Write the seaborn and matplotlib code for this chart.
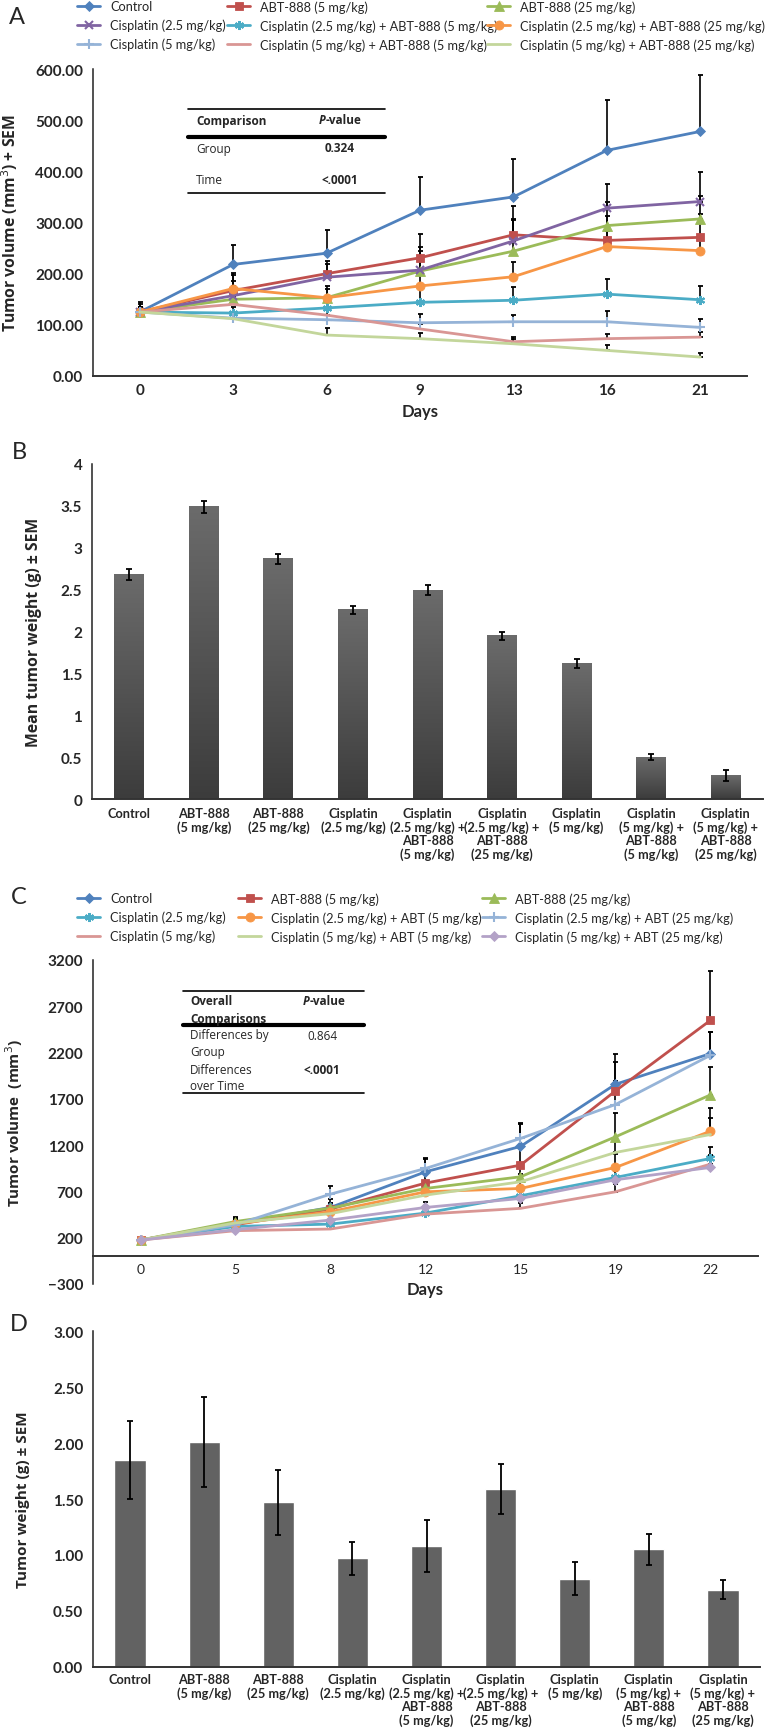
import numpy as np
import matplotlib
matplotlib.use('Agg')
import matplotlib.pyplot as plt
import seaborn as sns
from matplotlib.lines import Line2D
from matplotlib.colors import LinearSegmentedColormap

# ---------------- data ----------------
groups_a = ['Control', 'ABT-888 (5 mg/kg)', 'ABT-888 (25 mg/kg)',
            'Cisplatin (2.5 mg/kg)', 'Cisplatin (2.5 mg/kg) + ABT-888 (5 mg/kg)',
            'Cisplatin (2.5 mg/kg) + ABT-888 (25 mg/kg)',
            'Cisplatin (5 mg/kg)', 'Cisplatin (5 mg/kg) + ABT-888 (5 mg/kg)',
            'Cisplatin (5 mg/kg) + ABT-888 (25 mg/kg)']
days_a = ['0', '3', '6', '9', '13', '16', '21']
vol_a = [
    [125, 218, 240, 324, 350, 441, 478],
    [125, 167, 200, 231, 276, 265, 271],
    [125, 150, 153, 205, 244, 294, 307],
    [125, 157, 193, 207, 264, 328, 341],
    [125, 123, 133, 144, 148, 160, 149],
    [125, 171, 153, 176, 194, 253, 245],
    [125, 113, 110, 104, 106, 106, 95],
    [125, 140, 119, 92, 67, 73, 76],
    [125, 112, 80, 73, 63, 50, 37],
]
sem_a = [
    [20, 38, 46, 65, 75, 99, 110],
    [15, 30, 25, 47, 57, 47, 45],
    [10, 25, 18, 40, 63, 47, 45],
    [10, 28, 25, 45, 41, 48, 57],
    [8, 12, 17, 30, 26, 29, 26],
    [10, 31, 22, 26, 28, 30, 30],
    [8, 10, 10, 17, 13, 21, 17],
    [8, 14, 10, 10, 10, 10, 10],
    [8, 12, 14, 12, 10, 11, 7],
]

bar_labels = ['Control', 'ABT-888\n(5 mg/kg)', 'ABT-888\n(25 mg/kg)', 'Cisplatin\n(2.5 mg/kg)',
              'Cisplatin\n(2.5 mg/kg) +\nABT-888\n(5 mg/kg)', 'Cisplatin\n(2.5 mg/kg) +\nABT-888\n(25 mg/kg)',
              'Cisplatin\n(5 mg/kg)', 'Cisplatin\n(5 mg/kg) +\nABT-888\n(5 mg/kg)',
              'Cisplatin\n(5 mg/kg) +\nABT-888\n(25 mg/kg)']
weight_b = [2.68, 3.49, 2.87, 2.26, 2.49, 1.95, 1.62, 0.50, 0.28]
sem_b = [0.07, 0.07, 0.06, 0.05, 0.06, 0.05, 0.05, 0.04, 0.07]

groups_c = ['Control', 'ABT-888 (5 mg/kg)', 'ABT-888 (25 mg/kg)',
            'Cisplatin (2.5 mg/kg)', 'Cisplatin (2.5 mg/kg) + ABT (5 mg/kg)',
            'Cisplatin (2.5 mg/kg) + ABT (25 mg/kg)',
            'Cisplatin (5 mg/kg)', 'Cisplatin (5 mg/kg) + ABT (5 mg/kg)',
            'Cisplatin (5 mg/kg) + ABT (25 mg/kg)']
days_c = ['0', '5', '8', '12', '15', '19', '22']
vol_c = [
    [175, 350, 527, 912, 1186, 1858, 2189],
    [175, 340, 510, 790, 984, 1786, 2549],
    [175, 375, 520, 732, 858, 1290, 1743],
    [175, 322, 347, 466, 653, 851, 1056],
    [175, 350, 481, 696, 732, 959, 1351],
    [175, 340, 671, 948, 1272, 1639, 2171],
    [175, 276, 294, 455, 517, 696, 995],
    [175, 360, 460, 660, 804, 1121, 1315],
    [175, 287, 391, 527, 624, 826, 959],
]
sem_c = [
    [15, 60, 90, 144, 250, 242, 234],
    [15, 50, 60, 120, 200, 403, 529],
    [15, 50, 60, 80, 120, 255, 306],
    [15, 40, 40, 60, 80, 100, 126],
    [15, 50, 60, 80, 100, 150, 250],
    [15, 50, 83, 100, 160, 250, 250],
    [15, 30, 40, 50, 60, 80, 100],
    [15, 40, 50, 60, 80, 150, 180],
    [15, 40, 50, 54, 80, 100, 120],
]

weight_d = [1.85, 2.01, 1.47, 0.97, 1.08, 1.59, 0.79, 1.05, 0.69]
sem_d = [0.35, 0.40, 0.29, 0.15, 0.23, 0.22, 0.15, 0.14, 0.085]

# ---------------- styles ----------------
colors_a = ['#4F81BD', '#C0504D', '#9BBB59', '#8064A2', '#4BACC6', '#F79646', '#95B3D7', '#D99694', '#C3D69B']
markers_a = ['D', 's', '^', 'x', 'ast', 'o', '+', '', '']
colors_c = ['#4F81BD', '#C0504D', '#9BBB59', '#4BACC6', '#F79646', '#95B3D7', '#D99694', '#C3D69B', '#B3A2C7']
markers_c = ['D', 's', '^', 'ast', 'o', '+', '', '', 'D']
msize = {'D': 5.5, 's': 6, '^': 6.5, 'x': 5.5, 'ast': 6.5, 'o': 6.5, '+': 6.5}

sns.set_style('white')
plt.rcParams['font.family'] = ['Lato', 'DejaVu Sans']
OPEN = ['Open Sans', 'DejaVu Sans']

W, H = 769, 1733
fig = plt.figure(figsize=(W / 100, H / 100), dpi=100)


def box(l, r, t, b):
    return [l / W, 1 - b / H, (r - l) / W, (b - t) / H]


def fx(px):
    return px / W


def fy(py):
    return 1 - py / H


def style_axes(ax):
    for s in ['top', 'right']:
        ax.spines[s].set_visible(False)
    ax.spines['left'].set_color('#222222')
    ax.spines['left'].set_linewidth(1.1)
    ax.spines['bottom'].set_color('#333333')
    ax.spines['bottom'].set_linewidth(1.4)
    ax.tick_params(length=0)
    ax.grid(False)


def line_panel(ax, days, groups, vols, sems, colors, markers, yticks, ylabels):
    x = np.arange(len(days))
    for v, s in zip(vols, sems):
        ax.errorbar(x, v, yerr=[np.zeros(len(s)), s], fmt='none', ecolor='black',
                    elinewidth=1.2, capsize=1.8, capthick=1.3, zorder=1)
    for g, v, c, m in zip(groups, vols, colors, markers):
        kw = dict(marker=None)
        if m:
            kw = dict(marker=(6, 2, 0) if m == 'ast' else m, markersize=msize[m],
                      markeredgecolor=c, markerfacecolor=c,
                      markeredgewidth=1.5 if m in ('x', '+', 'ast') else 0.6)
        sns.lineplot(x=x, y=v, ax=ax, color=c, linewidth=2.0, label=g, legend=False, zorder=2, **kw)
    ax.set_xlim(-0.5, len(days) - 0.5)
    ax.set_xticks(x, labels=days, fontweight='bold', fontsize=11)
    ax.set_yticks(yticks, labels=ylabels, fontweight='bold', fontsize=11)
    ax.set_xlabel('Days', fontweight='bold', fontsize=12)
    style_axes(ax)


def legends(ax, xcols, ytop):
    handles, labels = ax.get_legend_handles_labels()
    for col, xp in zip([[0, 3, 6], [1, 4, 7], [2, 5, 8]], xcols):
        fig.legend([handles[i] for i in col], [labels[i] for i in col],
                   loc='upper left', bbox_to_anchor=(fx(xp), fy(ytop)),
                   frameon=False, fontsize=9.2, handlelength=1.8, handletextpad=0.8,
                   labelspacing=0.52, borderpad=0, borderaxespad=0)


grad = LinearSegmentedColormap.from_list('grad', ['#3c3c3c', '#6b6b6b'])


def bar_panel(ax, labels, means, sems, color, width, yticks, ylabels, gradient=False):
    sns.barplot(x=labels, y=means, color=color, width=width, saturation=1, ax=ax, errorbar=None)
    if gradient:
        ramp = np.linspace(0, 1, 256).reshape(-1, 1)
        for p in ax.patches:
            x0, y0, w, h = p.get_x(), p.get_y(), p.get_width(), p.get_height()
            ax.imshow(ramp, extent=[x0, x0 + w, y0, y0 + h], origin='lower', cmap=grad,
                      aspect='auto', zorder=p.get_zorder() + 0.01)
    ax.errorbar(np.arange(len(labels)), means, yerr=sems, fmt='none', ecolor='black',
                elinewidth=1.3, capsize=2, capthick=1.3, zorder=5)
    ax.set_xlim(-0.5, len(labels) - 0.5)
    ax.set_xticks(np.arange(len(labels)), labels=labels, fontweight='bold', fontsize=9.2, linespacing=1.12)
    ax.set_yticks(yticks, labels=ylabels, fontweight='bold', fontsize=11)
    ax.set_xlabel('')
    style_axes(ax)
    ax.tick_params(axis='x', pad=6)
    ax.tick_params(axis='y', pad=7)


def table(lines_px, texts):
    for (x0, x1, y, lw) in lines_px:
        fig.add_artist(Line2D([fx(x0), fx(x1)], [fy(y), fy(y)], transform=fig.transFigure,
                              color='black', lw=lw))
    for (x, y, s, kw) in texts:
        fig.text(fx(x), fy(y), s, va='center', family=OPEN, fontsize=8.5, **kw)


# ---------------- panel A ----------------
ax_a = fig.add_axes(box(93, 747, 70, 377))
line_panel(ax_a, days_a, groups_a, vol_a, sem_a, colors_a, markers_a,
           np.arange(0, 601, 100), ['%.2f' % v for v in np.arange(0, 601, 100)])
ax_a.set_ylim(0, 600)
ax_a.tick_params(axis='y', pad=7)
ax_a.tick_params(axis='x', pad=5)
ax_a.set_ylabel('Tumor volume (mm$^{3}$) + SEM', fontweight='bold', fontsize=11.3, family=OPEN)
ax_a.yaxis.set_label_coords((20 - 93) / 654, 0.5)
legends(ax_a, [77, 227, 487], 1)
fig.text(fx(17), fy(17), 'A', fontsize=17, ha='center', va='center')
table([(188, 385, 110, 1.2), (188, 385, 138, 3.0), (188, 385, 194, 1.2)],
      [(196, 121, 'Comparison', dict(fontweight='bold')),
       (326, 121, 'P', dict(fontweight='bold', style='italic', ha='right')),
       (326, 121, '-value', dict(fontweight='bold', ha='left')),
       (196, 149, 'Group', dict()),
       (340, 149, '0.324', dict(fontweight='bold', ha='center')),
       (196, 180, 'Time', dict()),
       (340, 180, '<.0001', dict(fontweight='bold', ha='center'))])

# ---------------- panel B ----------------
ax_b = fig.add_axes(box(92, 763, 465, 800))
bar_panel(ax_b, bar_labels, weight_b, sem_b, '#555555', 0.4,
          np.arange(0, 4.01, 0.5), ['%g' % v for v in np.arange(0, 4.01, 0.5)], gradient=True)
ax_b.set_xlim(-0.5, 8.5)
ax_b.set_ylim(0, 4)
ax_b.set_ylabel('Mean tumor weight (g) ± SEM', fontweight='bold', fontsize=11.3, family=OPEN)
ax_b.yaxis.set_label_coords((42 - 92) / 671, 0.5)
fig.text(fx(19), fy(453), 'B', fontsize=17, ha='center', va='center')

# ---------------- panel C ----------------
ax_c = fig.add_axes(box(93, 758, 961, 1285))
yt_c = np.arange(-300, 3201, 500)
line_panel(ax_c, days_c, groups_c, vol_c, sem_c, colors_c, markers_c,
           yt_c, ['\u2212300' if v < 0 else str(v) for v in yt_c])
ax_c.set_ylim(-300, 3200)
ax_c.spines['bottom'].set_position(('data', 0))
ax_c.tick_params(axis='y', pad=7)
ax_c.tick_params(axis='x', pad=5)
ax_c.set_ylabel('Tumor volume  (mm$^{3}$)', fontweight='bold', fontsize=11, family=OPEN)
ax_c.yaxis.set_label_coords((25 - 93) / 665, 0.5)
legends(ax_c, [77, 238, 482], 893)
fig.text(fx(19), fy(898), 'C', fontsize=17, ha='center', va='center')
table([(183, 364, 992, 1.2), (183, 364, 1026, 3.0), (183, 364, 1094, 1.2)],
      [(190, 1002, 'Overall', dict(fontweight='bold')),
       (190, 1019, 'Comparisons', dict(fontweight='bold')),
       (310, 1002, 'P', dict(fontweight='bold', style='italic', ha='right')),
       (310, 1002, '-value', dict(fontweight='bold', ha='left')),
       (190, 1036, 'Differences by', dict()),
       (190, 1053, 'Group', dict()),
       (322, 1036, '0.864', dict(ha='center')),
       (190, 1070, 'Differences', dict()),
       (190, 1087, 'over Time', dict()),
       (322, 1070, '<.0001', dict(fontweight='bold', ha='center'))])

# ---------------- panel D ----------------
ax_d = fig.add_axes(box(93, 760, 1332, 1668))
bar_panel(ax_d, bar_labels, weight_d, sem_d, '#626262', 0.42,
          np.arange(0, 3.01, 0.5), ['%.2f' % v for v in np.arange(0, 3.01, 0.5)])
ax_d.set_ylim(0, 3)
ax_d.tick_params(axis='x', pad=4)
ax_d.set_ylabel('Tumor weight (g) ± SEM', fontweight='bold', fontsize=11, family=OPEN)
ax_d.yaxis.set_label_coords((30 - 93) / 667, 0.5)
fig.text(fx(19), fy(1325), 'D', fontsize=17, ha='center', va='center')

fig.savefig('out.png', dpi=100)
